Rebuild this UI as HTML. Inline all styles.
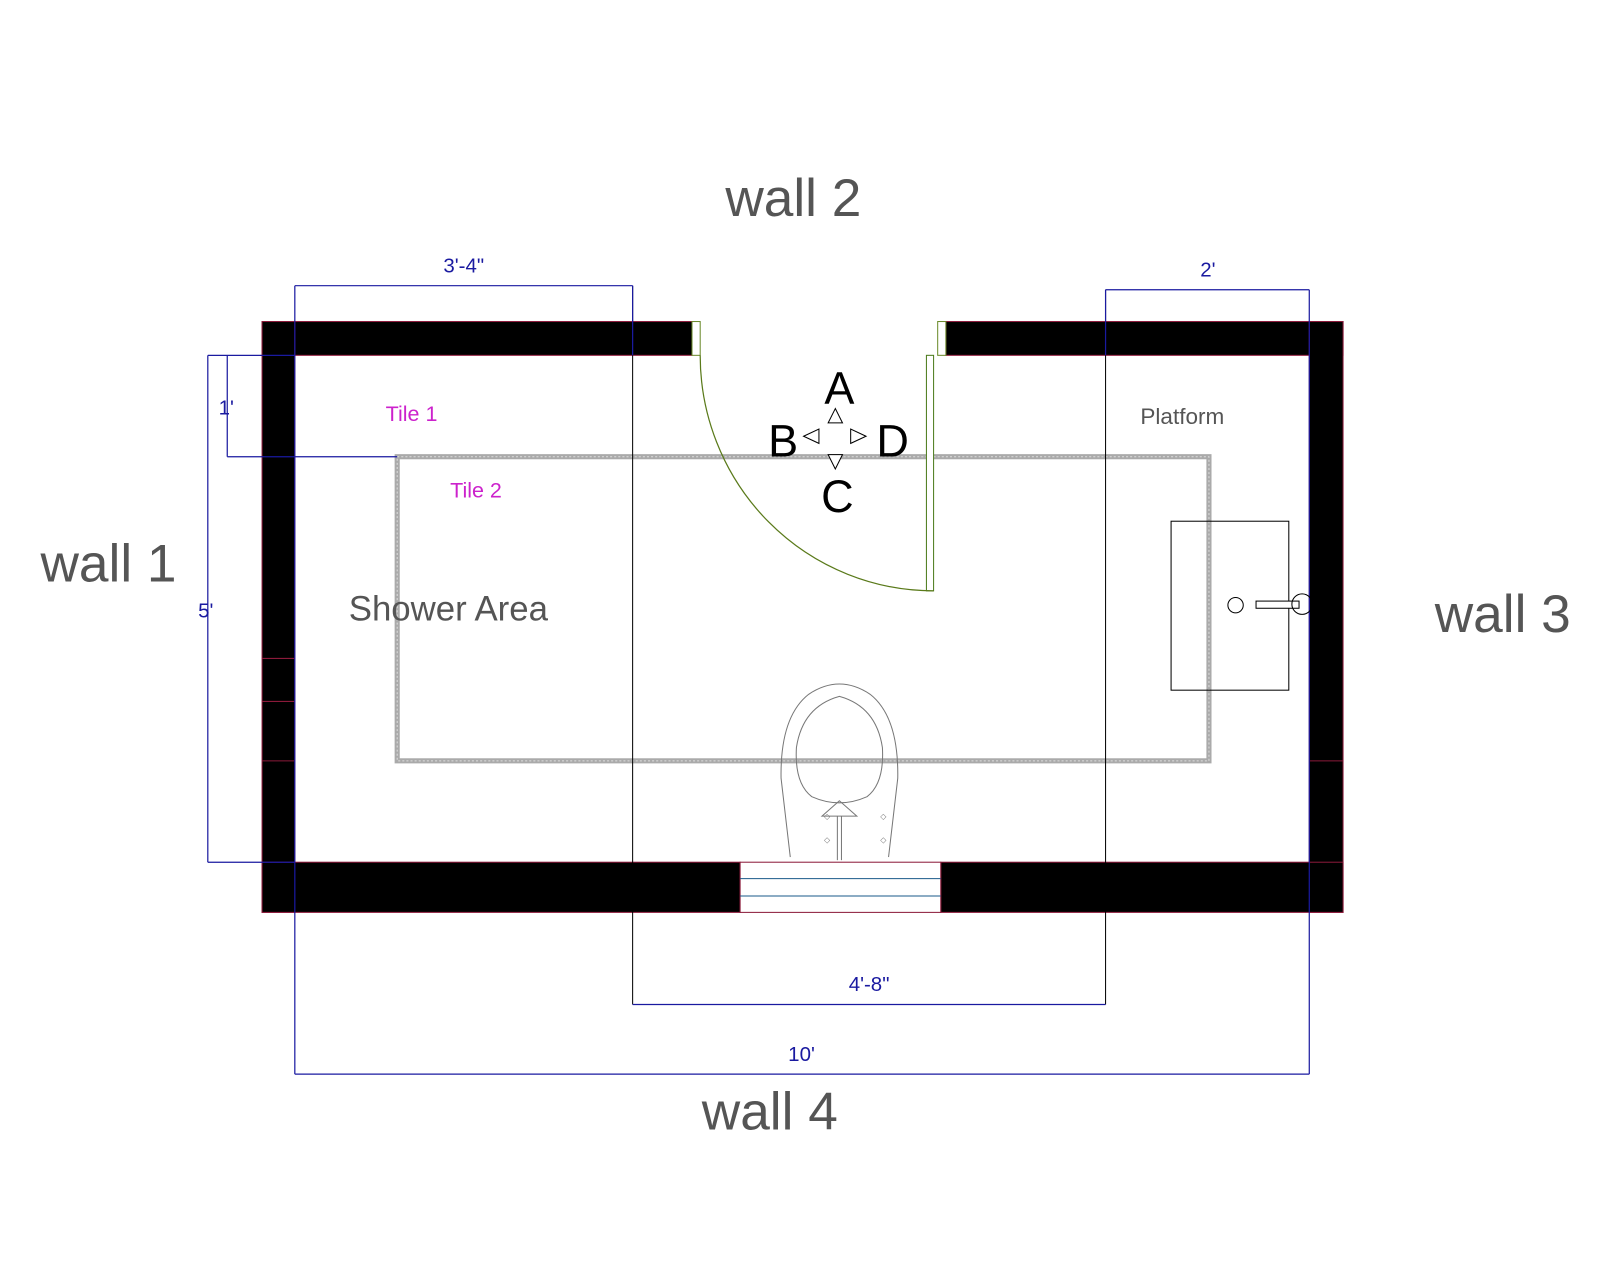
<!DOCTYPE html>
<html><head><meta charset="utf-8"><style>
html,body{margin:0;padding:0;background:#fff;}
svg{display:block;}
text{font-family:"Liberation Sans",Arial,sans-serif;}
</style></head><body>
<svg width="1600" height="1280" viewBox="0 0 1563 1250" preserveAspectRatio="none" xmlns="http://www.w3.org/2000/svg">
<rect width="1563" height="1250" fill="#fff"/>
<!-- tile rectangle -->
<rect x="388" y="446" width="793" height="297" fill="none" stroke="#aaa" stroke-width="5"/>
<rect x="388" y="446" width="793" height="297" fill="none" stroke="#ddd" stroke-width="1" stroke-dasharray="2,2"/>
<!-- walls -->
<g fill="#000" stroke="#8b1a3a" stroke-width="1">
<rect x="256" y="314" width="420" height="33"/>
<rect x="924" y="314" width="388" height="33"/>
<rect x="256" y="314" width="32" height="577"/>
<rect x="1279" y="314" width="33" height="577"/>
<rect x="256" y="842" width="467" height="49"/>
<rect x="919" y="842" width="393" height="49"/>
</g>
<line x1="256" y1="643" x2="288" y2="643" stroke="#8b1a3a"/>
<line x1="256" y1="685" x2="288" y2="685" stroke="#8b1a3a"/>
<line x1="256" y1="743" x2="288" y2="743" stroke="#8b1a3a"/>
<line x1="1279" y1="743" x2="1312" y2="743" stroke="#8b1a3a"/>
<!-- window bottom -->
<rect x="723" y="842" width="196" height="49" fill="#fff" stroke="#8b1a3a" stroke-width="1"/>
<line x1="723" y1="858" x2="919" y2="858" stroke="#1a5a8a"/>
<line x1="723" y1="875" x2="919" y2="875" stroke="#1a5a8a"/>
<!-- door -->
<rect x="676" y="314" width="8" height="33" fill="#fff" stroke="#6a8a2a"/>
<rect x="916" y="314" width="8" height="33" fill="#fff" stroke="#6a8a2a"/>
<rect x="905" y="347" width="7" height="230" fill="#fff" stroke="#4a7a1a"/>
<path d="M684 347 A228 230 0 0 0 912 577" fill="none" stroke="#5a7a1a" stroke-width="1.2"/>
<!-- dimension lines -->
<g stroke="#000" stroke-width="1">
<line x1="618" y1="279" x2="618" y2="981"/>
<line x1="1080" y1="283" x2="1080" y2="981"/>
</g>
<g stroke="#1a1aa0" stroke-width="1.2" fill="none">
<line x1="288" y1="279" x2="618" y2="279"/>
<line x1="288" y1="279" x2="288" y2="1049"/>
<line x1="1080" y1="283" x2="1279" y2="283"/>
<line x1="1279" y1="283" x2="1279" y2="1049"/>
<line x1="288" y1="1049" x2="1279" y2="1049"/>
<line x1="618" y1="981" x2="1080" y2="981"/>
<line x1="618" y1="279" x2="618" y2="347"/>
<line x1="1080" y1="283" x2="1080" y2="347"/>
<line x1="203" y1="347" x2="203" y2="842"/>
<line x1="203" y1="347" x2="288" y2="347"/>
<line x1="203" y1="842" x2="288" y2="842"/>
<line x1="222" y1="347" x2="222" y2="446"/>
<line x1="222" y1="446" x2="388" y2="446"/>
</g>
<g fill="#1a1aa0" font-size="20" text-anchor="middle">
<text x="453" y="266">3'-4"</text>
<text x="1180" y="270">2'</text>
<text x="221" y="405">1'</text>
<text x="201" y="603">5'</text>
<text x="849" y="968">4'-8"</text>
<text x="783" y="1036">10'</text>
</g>
<!-- sink -->
<rect x="1144" y="509" width="115" height="165" fill="none" stroke="#000"/>
<circle cx="1207" cy="591" r="7.5" fill="none" stroke="#000"/>
<rect x="1227" y="587" width="42" height="7" fill="#fff" stroke="#000"/>
<circle cx="1272" cy="590" r="10" fill="none" stroke="#000"/>
<!-- toilet -->
<g fill="none" stroke="#777" stroke-width="1">
<path d="M772 837 L763 760 Q762 700 790 678 Q820 658 850 678 Q878 700 877 760 L868 837"/>
<path d="M793 778 Q776 765 778 730 Q784 690 820 680 Q856 690 862 730 Q864 765 847 778 Q820 790 793 778 Z"/>
<path d="M820 782 L803 797 L837 797 Z"/>
<line x1="818" y1="797" x2="818" y2="840"/>
<line x1="822" y1="797" x2="822" y2="840"/>
</g>
<g fill="#777" font-size="8" text-anchor="middle">
<text x="808" y="800">◇</text><text x="863" y="800">◇</text>
<text x="808" y="823">◇</text><text x="863" y="823">◇</text>
</g>
<!-- compass -->
<g fill="#fff" stroke="#000" stroke-width="1">
<path d="M816 399 L809 413 L823 413 Z"/>
<path d="M816 458 L809 444 L823 444 Z"/>
<path d="M785 426 L800 419 L800 433 Z"/>
<path d="M846 426 L831 419 L831 433 Z"/>
</g>
<g fill="#000" font-size="44" text-anchor="middle">
<text x="820" y="394">A</text>
<text x="765" y="446">B</text>
<text x="872" y="446">D</text>
<text x="818" y="500">C</text>
</g>
<!-- labels -->
<g fill="#555">
<text x="775" y="211" font-size="52" text-anchor="middle">wall 2</text>
<text x="106" y="568" font-size="52" text-anchor="middle">wall 1</text>
<text x="1468" y="617" font-size="52" text-anchor="middle">wall 3</text>
<text x="752" y="1103" font-size="52" text-anchor="middle">wall 4</text>
<text x="438" y="606" font-size="34" text-anchor="middle">Shower Area</text>
<text x="1155" y="414" font-size="22" text-anchor="middle">Platform</text>
</g>
<g fill="#cc22cc" font-size="21" text-anchor="middle">
<text x="402" y="411">Tile 1</text>
<text x="465" y="486">Tile 2</text>
</g>
</svg>
</body></html>
